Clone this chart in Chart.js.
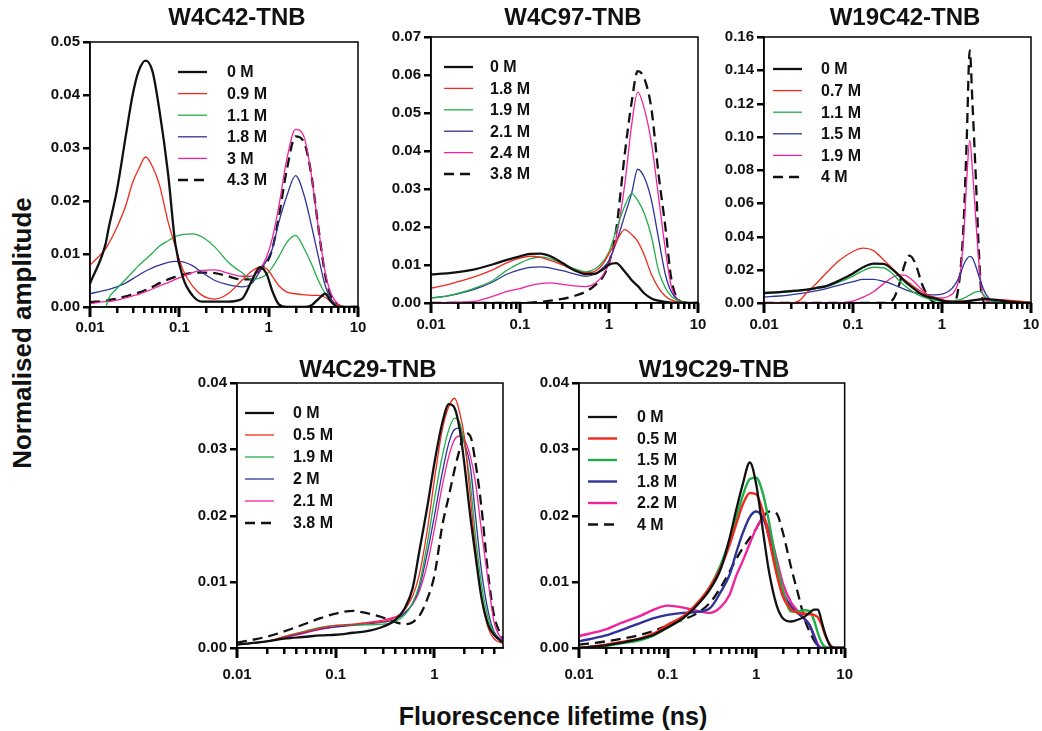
<!DOCTYPE html>
<html>
<head>
<meta charset="utf-8">
<script src="https://cdn.jsdelivr.net/npm/chart.js@4"></script>
<style>
body { margin: 0; width: 1042px; height: 731px; position: relative; overflow: hidden; background: #fff; font-family: "Liberation Sans", Arial, sans-serif; }
canvas { position: absolute; }
.axis-title { position: absolute; font-weight: bold; color: #111; white-space: nowrap; }
#ytitle { left: 22px; top: 333px; font-size: 26px; transform: translate(-50%, -50%) rotate(-90deg); }
#xtitle { left: 553px; top: 716px; font-size: 25px; transform: translate(-50%, -50%); }
</style>
</head>
<body>
<div class="axis-title" id="ytitle">Normalised amplitude</div>
<div class="axis-title" id="xtitle">Fluorescence lifetime (ns)</div>
<script>
// x tick positions (log axis)
const majorTicks = [0.01, 0.1, 1, 10];
const minorTicks = [0.02, 0.03, 0.04, 0.05, 0.06, 0.07, 0.08, 0.09,
    0.2, 0.3, 0.4, 0.5, 0.6, 0.7, 0.8, 0.9, 2, 3, 4, 5, 6, 7, 8, 9];

// W4C42-TNB
const w4c42Labels = ["0 M", "0.9 M", "1.1 M", "1.8 M", "3 M", "4.3 M"];
const w4c42Tau = [0.01, 0.015, 0.016, 0.02, 0.025, 0.03, 0.035, 0.042, 0.05, 0.06, 0.075, 0.09, 0.11, 0.14, 0.18, 0.25, 0.35, 0.5, 0.65, 0.8, 0.95, 1.1, 1.3, 1.6, 2, 2.5, 3, 3.6, 4.3, 5, 6, 7, 10];
const w4c42_0 = [0.0044, 0.012, 0.0145, 0.022, 0.032, 0.040, 0.0445, 0.0465, 0.0445, 0.037, 0.025, 0.012, 0.0055, 0.0022, 0.001, 0.001, 0.001, 0.0015, 0.005, 0.0075, 0.0062, 0.003, 0.0005, 0, 0, 0, 0.0003, 0.0015, 0.0025, 0.001, 0, 0, 0];
const w4c42_09 = [0.0079, 0.011, 0.0118, 0.015, 0.019, 0.0235, 0.026, 0.0283, 0.0265, 0.023, 0.016, 0.0115, 0.007, 0.004, 0.0022, 0.0015, 0.0025, 0.005, 0.0068, 0.0075, 0.0072, 0.0058, 0.004, 0.0028, 0.0025, 0.0023, 0.0022, 0.0022, 0.0018, 0.001, 0.0003, 0, 0];
const w4c42_11 = [0, 0, 0.0015, 0.0035, 0.0052, 0.0066, 0.0078, 0.009, 0.0102, 0.0115, 0.0125, 0.0133, 0.0137, 0.0138, 0.0132, 0.0113, 0.0085, 0.0065, 0.0052, 0.0055, 0.0062, 0.0075, 0.0095, 0.0122, 0.0135, 0.011, 0.0082, 0.005, 0.0025, 0.001, 0.0002, 0, 0];
const w4c42_18 = [0.0025, 0.0032, 0.0033, 0.0038, 0.0045, 0.0053, 0.006, 0.0068, 0.0074, 0.0079, 0.0084, 0.0086, 0.0085, 0.0078, 0.0065, 0.005, 0.0042, 0.0038, 0.0045, 0.0068, 0.0088, 0.011, 0.016, 0.021, 0.0248, 0.021, 0.0155, 0.0095, 0.004, 0.0015, 0.0003, 0, 0];
const w4c42_3 = [0.0006, 0.001, 0.001, 0.0013, 0.0017, 0.0021, 0.0024, 0.0029, 0.0034, 0.004, 0.0046, 0.0052, 0.0058, 0.0065, 0.0069, 0.0070, 0.0064, 0.0058, 0.0058, 0.0072, 0.0095, 0.013, 0.019, 0.028, 0.0335, 0.032, 0.025, 0.015, 0.0065, 0.0025, 0.0005, 0, 0];
const w4c42_43 = [0.0009, 0.0012, 0.0013, 0.0016, 0.002, 0.0024, 0.0027, 0.0032, 0.0038, 0.0045, 0.0052, 0.0057, 0.0061, 0.0064, 0.0065, 0.0064, 0.0058, 0.0052, 0.0052, 0.007, 0.0083, 0.011, 0.017, 0.026, 0.0322, 0.031, 0.025, 0.015, 0.006, 0.002, 0.0004, 0, 0];

// W4C97-TNB
const w4c97Labels = ["0 M", "1.8 M", "1.9 M", "2.1 M", "2.4 M", "3.8 M"];
const w4c97Tau = [0.01, 0.015, 0.02, 0.03, 0.05, 0.07, 0.1, 0.13, 0.17, 0.22, 0.3, 0.4, 0.55, 0.7, 0.85, 1, 1.2, 1.5, 1.8, 2.1, 2.5, 3, 3.6, 4.3, 5, 6, 7.5, 10];
const w4c97_0 = [0.0075, 0.0078, 0.0081, 0.0088, 0.0102, 0.0113, 0.0123, 0.0129, 0.013, 0.0123, 0.0105, 0.0087, 0.0076, 0.0077, 0.0088, 0.0101, 0.0105, 0.0083, 0.006, 0.0045, 0.0025, 0.0012, 0.0006, 0.0003, 0.0001, 0, 0, 0];
const w4c97_18 = [0.0039, 0.0048, 0.0056, 0.0068, 0.0088, 0.0105, 0.0118, 0.0123, 0.012, 0.0112, 0.0100, 0.0088, 0.008, 0.0084, 0.0102, 0.013, 0.016, 0.0193, 0.018, 0.0162, 0.0125, 0.0075, 0.004, 0.0018, 0.0008, 0.0003, 0.0001, 0];
const w4c97_19 = [0.0013, 0.0018, 0.0025, 0.0038, 0.006, 0.0085, 0.0105, 0.0116, 0.0121, 0.0117, 0.0103, 0.0091, 0.0082, 0.0090, 0.0108, 0.0135, 0.019, 0.0255, 0.0288, 0.027, 0.0235, 0.0175, 0.0085, 0.004, 0.0018, 0.0006, 0.0001, 0];
const w4c97_21 = [0.0013, 0.0018, 0.0024, 0.0035, 0.0056, 0.0075, 0.0088, 0.0094, 0.0095, 0.0092, 0.0085, 0.0077, 0.007, 0.0077, 0.0092, 0.0112, 0.0158, 0.023, 0.029, 0.0352, 0.033, 0.027, 0.017, 0.0075, 0.003, 0.0008, 0.0001, 0];
const w4c97_24 = [0, 0.0001, 0.0002, 0.0004, 0.0018, 0.003, 0.0038, 0.0046, 0.0051, 0.0053, 0.0049, 0.0045, 0.0043, 0.0052, 0.0072, 0.0105, 0.017, 0.031, 0.047, 0.0555, 0.051, 0.042, 0.028, 0.014, 0.0045, 0.0008, 0.0001, 0];
const w4c97_38 = [0, 0, 0, 0, 0, 0, 0, 0.0001, 0.0003, 0.0006, 0.0011, 0.0018, 0.003, 0.0047, 0.0068, 0.0105, 0.019, 0.039, 0.053, 0.061, 0.059, 0.051, 0.034, 0.02, 0.0065, 0.001, 0, 0];

// W19C42-TNB
const w19c42Labels = ["0 M", "0.7 M", "1.1 M", "1.5 M", "1.9 M", "4 M"];
const w19c42Tau = [0.01, 0.015, 0.02, 0.025, 0.03, 0.04, 0.05, 0.07, 0.1, 0.13, 0.17, 0.22, 0.28, 0.33, 0.38, 0.43, 0.5, 0.6, 0.7, 0.85, 1, 1.2, 1.4, 1.6, 1.75, 1.9, 2.05, 2.2, 2.4, 2.6, 2.8, 3.1, 3.5, 4, 5, 7, 10];
const w19c42_0 = [0.006, 0.0066, 0.0071, 0.0076, 0.008, 0.0092, 0.0102, 0.0135, 0.0178, 0.0215, 0.0237, 0.0235, 0.02, 0.0165, 0.0132, 0.0107, 0.008, 0.005, 0.0037, 0.0026, 0.0015, 0.0008, 0.0006, 0.0006, 0.0008, 0.001, 0.0012, 0.0015, 0.0018, 0.0021, 0.0023, 0.0024, 0.0022, 0.0018, 0.0012, 0.0004, 0];
const w19c42_07 = [0, 0, 0, 0.0015, 0.006, 0.0125, 0.018, 0.0255, 0.031, 0.033, 0.0315, 0.026, 0.0205, 0.017, 0.014, 0.012, 0.0093, 0.0065, 0.0048, 0.0032, 0.002, 0.0012, 0.001, 0.0012, 0.0013, 0.0014, 0.0015, 0.0016, 0.0018, 0.0019, 0.002, 0.0021, 0.0021, 0.0021, 0.0019, 0.0012, 0.0004];
const w19c42_11 = [0.0056, 0.0062, 0.0067, 0.0073, 0.0077, 0.0088, 0.0099, 0.0125, 0.0162, 0.0195, 0.0215, 0.0212, 0.0175, 0.0135, 0.0105, 0.0082, 0.0058, 0.0038, 0.0025, 0.0015, 0.001, 0.001, 0.0015, 0.002, 0.0028, 0.0038, 0.0048, 0.0058, 0.0067, 0.007, 0.0062, 0.0035, 0.0012, 0.0003, 0, 0, 0];
const w19c42_15 = [0.0036, 0.0042, 0.0049, 0.0056, 0.0062, 0.0075, 0.0086, 0.0108, 0.0128, 0.0142, 0.0142, 0.013, 0.0112, 0.0095, 0.0082, 0.0072, 0.0062, 0.0054, 0.005, 0.0049, 0.0053, 0.0072, 0.011, 0.017, 0.023, 0.0265, 0.028, 0.027, 0.022, 0.016, 0.011, 0.0055, 0.002, 0.0005, 0, 0, 0];
const w19c42_19 = [0, 0, 0, 0, 0, 0, 0, 0.0001, 0.0012, 0.0035, 0.0068, 0.0115, 0.0155, 0.0168, 0.0168, 0.0152, 0.0122, 0.0078, 0.0048, 0.0032, 0.003, 0.0042, 0.0075, 0.018, 0.04, 0.075, 0.098, 0.08, 0.05, 0.024, 0.008, 0.0022, 0.0005, 0, 0, 0, 0];
const w19c42_4 = [0, 0, 0, 0, 0, 0, 0, 0, 0, 0, 0, 0, 0.002, 0.011, 0.023, 0.0285, 0.024, 0.011, 0.004, 0, 0, 0, 0.001, 0.018, 0.048, 0.1, 0.152, 0.12, 0.075, 0.03, 0.004, 0, 0, 0, 0, 0, 0];

// W4C29-TNB
const w4c29Labels = ["0 M", "0.5 M", "1.9 M", "2 M", "2.1 M", "3.8 M"];
const w4c29Tau = [0.01, 0.02, 0.03, 0.05, 0.07, 0.1, 0.15, 0.2, 0.3, 0.4, 0.5, 0.6, 0.7, 0.85, 1, 1.2, 1.4, 1.6, 1.8, 2, 2.3, 2.6, 3, 3.5, 4, 4.94];
const w4c29_0 = [0.0005, 0.001, 0.0014, 0.0017, 0.0019, 0.002, 0.0023, 0.0025, 0.0032, 0.0042, 0.006, 0.009, 0.0145, 0.0215, 0.028, 0.034, 0.0368, 0.0362, 0.033, 0.028, 0.020, 0.014, 0.0075, 0.0035, 0.002, 0.0008];
const w4c29_05 = [0.0005, 0.001, 0.0017, 0.0025, 0.003, 0.0034, 0.0036, 0.0038, 0.004, 0.0046, 0.0058, 0.0078, 0.011, 0.018, 0.0255, 0.033, 0.0365, 0.0377, 0.0355, 0.032, 0.023, 0.015, 0.0075, 0.003, 0.0014, 0.0007];
const w4c29_19 = [0.0005, 0.001, 0.0017, 0.0026, 0.0031, 0.0034, 0.0035, 0.0035, 0.0036, 0.004, 0.005, 0.0068, 0.0095, 0.016, 0.0225, 0.029, 0.033, 0.0347, 0.034, 0.031, 0.025, 0.017, 0.0095, 0.0045, 0.0022, 0.0008];
const w4c29_2 = [0.0005, 0.001, 0.0016, 0.0024, 0.0029, 0.0032, 0.0034, 0.0036, 0.0039, 0.0043, 0.0052, 0.0067, 0.009, 0.0145, 0.02, 0.0265, 0.031, 0.033, 0.0332, 0.031, 0.0275, 0.02, 0.0115, 0.0055, 0.0025, 0.001];
const w4c29_21 = [0.0005, 0.001, 0.0015, 0.0023, 0.0028, 0.0032, 0.0035, 0.0038, 0.0042, 0.0047, 0.0054, 0.0066, 0.0085, 0.0128, 0.018, 0.0245, 0.029, 0.0315, 0.032, 0.0315, 0.029, 0.025, 0.0175, 0.010, 0.004, 0.001];
const w4c29_38 = [0.0008, 0.0017, 0.0025, 0.0037, 0.0045, 0.0052, 0.0056, 0.0053, 0.0046, 0.0039, 0.0036, 0.0039, 0.0048, 0.0075, 0.011, 0.0185, 0.023, 0.027, 0.03, 0.0325, 0.032, 0.028, 0.021, 0.011, 0.005, 0.0013];

// W19C29-TNB
const w19c29Labels = ["0 M", "0.5 M", "1.5 M", "1.8 M", "2.2 M", "4 M"];
const w19c29Tau = [0.01, 0.02, 0.03, 0.05, 0.07, 0.1, 0.15, 0.2, 0.3, 0.4, 0.5, 0.6, 0.7, 0.85, 1, 1.2, 1.4, 1.7, 2, 2.5, 3, 3.5, 4, 4.5, 5, 5.5, 6, 7, 8, 10];
const w19c29_0 = [0, 0.0004, 0.0008, 0.0014, 0.002, 0.0031, 0.0045, 0.006, 0.0088, 0.012, 0.0165, 0.021, 0.0245, 0.028, 0.0248, 0.0175, 0.0115, 0.0065, 0.0045, 0.004, 0.0043, 0.0047, 0.0053, 0.0058, 0.0058, 0.004, 0.0022, 0.0002, 0, 0];
const w19c29_05 = [0, 0.0005, 0.0009, 0.0015, 0.0022, 0.0035, 0.0048, 0.0063, 0.0092, 0.0122, 0.0155, 0.0188, 0.0215, 0.0234, 0.0232, 0.0205, 0.0165, 0.0112, 0.0078, 0.0058, 0.0053, 0.0052, 0.0051, 0.005, 0.0046, 0.0035, 0.002, 0.0003, 0, 0];
const w19c29_15 = [0, 0.0003, 0.0007, 0.0012, 0.0019, 0.0031, 0.0045, 0.0061, 0.0092, 0.0126, 0.0162, 0.0197, 0.0228, 0.0255, 0.0257, 0.0232, 0.019, 0.0128, 0.0088, 0.0055, 0.0055, 0.0057, 0.0056, 0.0042, 0.0022, 0.0008, 0.0002, 0, 0, 0];
const w19c29_18 = [0.001, 0.0019, 0.0027, 0.0038, 0.0045, 0.005, 0.0053, 0.0054, 0.006, 0.0085, 0.011, 0.0145, 0.0172, 0.0198, 0.0206, 0.0196, 0.0168, 0.0118, 0.0085, 0.0062, 0.0052, 0.0044, 0.0035, 0.0018, 0.0003, 0, 0, 0, 0, 0];
const w19c29_22 = [0.0018, 0.0028, 0.0038, 0.0049, 0.0058, 0.0064, 0.0061, 0.0057, 0.0053, 0.0062, 0.008, 0.011, 0.013, 0.0158, 0.018, 0.0196, 0.0178, 0.0135, 0.0098, 0.0068, 0.0055, 0.0045, 0.0035, 0.002, 0.0005, 0, 0, 0, 0, 0];
const w19c29_4 = [0.0005, 0.001, 0.0014, 0.002, 0.0026, 0.0034, 0.0043, 0.005, 0.0068, 0.0092, 0.0115, 0.0135, 0.015, 0.0166, 0.018, 0.0198, 0.0206, 0.0203, 0.0175, 0.012, 0.008, 0.0045, 0.0025, 0.0012, 0.0003, 0, 0, 0, 0, 0];

const colors = ["#111111", "#f02a1e", "#1fae48", "#2f3398", "#f0239c", "#111111"];
const FONT = '"Liberation Sans", Arial, sans-serif';

const panels = [
    { title: "W4C42-TNB", box: [90, 42, 358, 307], xmax: 10, ymax: 0.05, ystep: 0.01, thin: 1.3,
      tau: w4c42Tau, series: [w4c42_0, w4c42_09, w4c42_11, w4c42_18, w4c42_3, w4c42_43], labels: w4c42Labels,
      titlePos: [147, -24], legendPos: [88, 137, 30, 21.6], labelPad: 3 },
    { title: "W4C97-TNB", box: [431, 37, 698, 303], xmax: 10, ymax: 0.07, ystep: 0.01, thin: 1.3,
      tau: w4c97Tau, series: [w4c97_0, w4c97_18, w4c97_19, w4c97_21, w4c97_24, w4c97_38], labels: w4c97Labels,
      titlePos: [142, -19], legendPos: [13, 59, 30, 21.4], labelPad: 4 },
    { title: "W19C42-TNB", box: [764, 37, 1031, 303], xmax: 10, ymax: 0.16, ystep: 0.02, thin: 1.3,
      tau: w19c42Tau, series: [w19c42_0, w19c42_07, w19c42_11, w19c42_15, w19c42_19, w19c42_4], labels: w19c42Labels,
      titlePos: [141, -19], legendPos: [9, 57, 32, 21.6], labelPad: 4 },
    { title: "W4C29-TNB", box: [237, 383, 503, 648], xmax: 4.94, ymax: 0.04, ystep: 0.01, thin: 1.3,
      tau: w4c29Tau, series: [w4c29_0, w4c29_05, w4c29_19, w4c29_2, w4c29_21, w4c29_38], labels: w4c29Labels,
      titlePos: [131, -13], legendPos: [8, 56, 30, 22], labelPad: 9 },
    { title: "W19C29-TNB", box: [579, 383, 846, 648], xmax: 10, ymax: 0.04, ystep: 0.01, thin: 2.4,
      tau: w19c29Tau, series: [w19c29_0, w19c29_05, w19c29_15, w19c29_18, w19c29_22, w19c29_4], labels: w19c29Labels,
      titlePos: [135, -13], legendPos: [9, 58, 34, 21.5], labelPad: 9 }
];

const decor = {
    id: 'decor',
    afterDraw(chart, args, opts) {
        let ctx = chart.ctx;
        let a = chart.chartArea;
        let xs = chart.scales.x;
        let ys = chart.scales.y;
        let bottom = Math.round(a.bottom);
        let left = Math.round(a.left);
        ctx.save();
        ctx.strokeStyle = '#000';
        ctx.lineWidth = 1.5;
        ctx.strokeRect(a.left, a.top, a.right - a.left, a.bottom - a.top);
        // tick marks below / left of the axes
        ctx.fillStyle = '#000';
        for (let v of majorTicks) {
            if (v > xs.max * 1.001) continue;
            let px = Math.round(xs.getPixelForValue(v));
            ctx.fillRect(px - 1.5, bottom, 3, 10);
        }
        for (let v of minorTicks) {
            if (v > xs.max) continue;
            let px = Math.round(xs.getPixelForValue(v));
            ctx.fillRect(px - 1, bottom, 2.5, 6);
        }
        for (let t of ys.ticks) {
            let py = Math.round(ys.getPixelForValue(t.value));
            ctx.fillRect(left - 7, py - 1, 7, 2.5);
        }
        // title
        ctx.fillStyle = '#111';
        ctx.font = 'bold 24px ' + FONT;
        ctx.textAlign = 'center';
        ctx.textBaseline = 'middle';
        ctx.fillText(opts.title, a.left + opts.titlePos[0], a.top + opts.titlePos[1]);
        // legend
        let [lx, tx, ly, dy] = opts.legendPos;
        ctx.font = 'bold 16px ' + FONT;
        ctx.textAlign = 'left';
        chart.data.datasets.forEach((ds, i) => {
            let y = a.top + ly + i * dy;
            ctx.beginPath();
            ctx.strokeStyle = ds.borderColor;
            ctx.lineWidth = ds.borderWidth;
            ctx.setLineDash(ds.borderDash || []);
            ctx.moveTo(a.left + lx, y);
            ctx.lineTo(a.left + lx + 29, y);
            ctx.stroke();
            ctx.setLineDash([]);
            ctx.fillText(ds.label, a.left + tx, y + 1);
        });
        ctx.restore();
    }
};

function makePanel(p) {
    const YW = 62, TOP = 44, RIGHT = 16, XH = 40;
    let w = p.box[2] - p.box[0] + YW + RIGHT;
    let h = p.box[3] - p.box[1] + TOP + XH;
    let canvas = document.createElement('canvas');
    canvas.width = w;
    canvas.height = h;
    canvas.style.left = (p.box[0] - YW) + 'px';
    canvas.style.top = (p.box[1] - TOP) + 'px';
    canvas.style.width = w + 'px';
    canvas.style.height = h + 'px';
    document.body.appendChild(canvas);

    let datasets = p.series.map((vals, i) => ({
        label: p.labels[i],
        data: p.tau.map((t, j) => ({ x: t, y: vals[j] })),
        borderColor: colors[i],
        borderWidth: (i == 0 || i == 5) ? 2.3 : p.thin,
        borderDash: i == 5 ? [10, 6] : [],
        pointRadius: 0,
        cubicInterpolationMode: 'monotone',
        fill: false,
        order: i
    }));

    new Chart(canvas, {
        type: 'line',
        data: { datasets },
        options: {
            responsive: false,
            animation: false,
            events: [],
            layout: { padding: { top: TOP, right: RIGHT, left: 0, bottom: 0 } },
            scales: {
                x: {
                    type: 'logarithmic',
                    min: 0.01,
                    max: p.xmax,
                    afterFit: (s) => { s.height = XH; },
                    afterBuildTicks: (s) => { s.ticks = majorTicks.filter(v => v <= p.xmax).map(v => ({ value: v })); },
                    ticks: {
                        autoSkip: false, maxRotation: 0, padding: p.labelPad, color: '#111',
                        font: { family: FONT, size: 15, weight: 'bold' },
                        callback: (v) => String(v)
                    },
                    grid: { drawOnChartArea: false, tickLength: 9, tickColor: 'rgba(0,0,0,0)' },
                    border: { color: '#000', width: 1.5 }
                },
                y: {
                    min: 0,
                    max: p.ymax,
                    afterFit: (s) => { s.width = YW; },
                    ticks: {
                        stepSize: p.ystep, padding: 4, color: '#111',
                        font: { family: FONT, size: 15, weight: 'bold' },
                        callback: (v) => v.toFixed(2)
                    },
                    grid: { drawOnChartArea: false, tickLength: 6, tickColor: 'rgba(0,0,0,0)' },
                    border: { color: '#000', width: 1.5 }
                }
            },
            plugins: {
                legend: { display: false },
                tooltip: { enabled: false },
                decor: p
            }
        },
        plugins: [decor]
    });
}

panels.forEach(makePanel);
</script>
</body>
</html>
